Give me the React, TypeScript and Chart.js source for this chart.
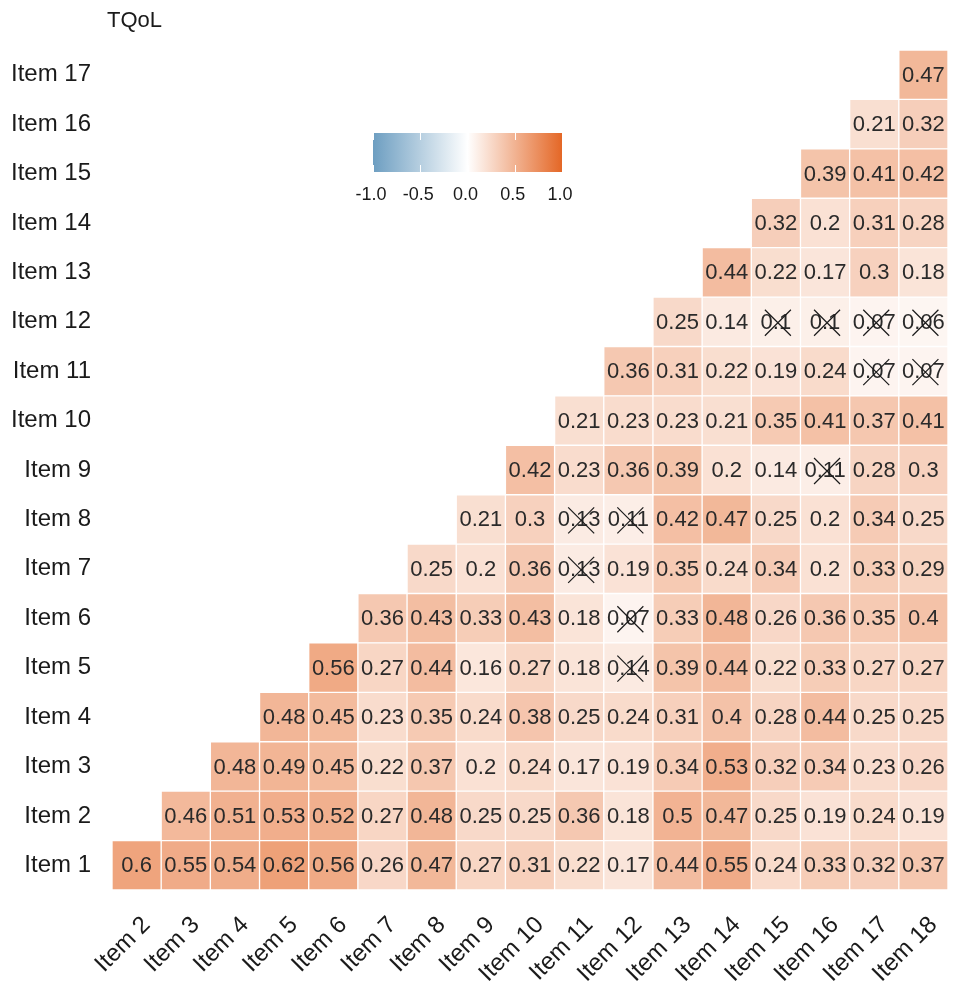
import { useEffect, useRef } from 'react';
import { Chart, registerables } from 'chart.js';

Chart.register(...registerables);

const chartTitle = 'TQoL';
const rowLabels = [
  'Item 1', 'Item 2', 'Item 3', 'Item 4', 'Item 5', 'Item 6', 'Item 7', 'Item 8', 'Item 9',
  'Item 10', 'Item 11', 'Item 12', 'Item 13', 'Item 14', 'Item 15', 'Item 16', 'Item 17',
];
const colLabels = [
  'Item 2', 'Item 3', 'Item 4', 'Item 5', 'Item 6', 'Item 7', 'Item 8', 'Item 9', 'Item 10',
  'Item 11', 'Item 12', 'Item 13', 'Item 14', 'Item 15', 'Item 16', 'Item 17', 'Item 18',
];

// correlations of each row item with the items after it (Item r+1 .. Item 18)
const item1 = [0.6, 0.55, 0.54, 0.62, 0.56, 0.26, 0.47, 0.27, 0.31, 0.22, 0.17, 0.44, 0.55, 0.24, 0.33, 0.32, 0.37];
const item2 = [0.46, 0.51, 0.53, 0.52, 0.27, 0.48, 0.25, 0.25, 0.36, 0.18, 0.5, 0.47, 0.25, 0.19, 0.24, 0.19];
const item3 = [0.48, 0.49, 0.45, 0.22, 0.37, 0.2, 0.24, 0.17, 0.19, 0.34, 0.53, 0.32, 0.34, 0.23, 0.26];
const item4 = [0.48, 0.45, 0.23, 0.35, 0.24, 0.38, 0.25, 0.24, 0.31, 0.4, 0.28, 0.44, 0.25, 0.25];
const item5 = [0.56, 0.27, 0.44, 0.16, 0.27, 0.18, 0.14, 0.39, 0.44, 0.22, 0.33, 0.27, 0.27];
const item6 = [0.36, 0.43, 0.33, 0.43, 0.18, 0.07, 0.33, 0.48, 0.26, 0.36, 0.35, 0.4];
const item7 = [0.25, 0.2, 0.36, 0.13, 0.19, 0.35, 0.24, 0.34, 0.2, 0.33, 0.29];
const item8 = [0.21, 0.3, 0.13, 0.11, 0.42, 0.47, 0.25, 0.2, 0.34, 0.25];
const item9 = [0.42, 0.23, 0.36, 0.39, 0.2, 0.14, 0.11, 0.28, 0.3];
const item10 = [0.21, 0.23, 0.23, 0.21, 0.35, 0.41, 0.37, 0.41];
const item11 = [0.36, 0.31, 0.22, 0.19, 0.24, 0.07, 0.07];
const item12 = [0.25, 0.14, 0.1, 0.1, 0.07, 0.06];
const item13 = [0.44, 0.22, 0.17, 0.3, 0.18];
const item14 = [0.32, 0.2, 0.31, 0.28];
const item15 = [0.39, 0.41, 0.42];
const item16 = [0.21, 0.32];
const item17 = [0.47];

// non-significant cells (crossed out): row item number, column item number
const insigRow = [5, 6, 7, 8, 8, 9, 11, 11, 12, 12, 12, 12];
const insigCol = [12, 12, 11, 11, 12, 16, 17, 18, 15, 16, 17, 18];

const legendTicks = [-1, -0.5, 0, 0.5, 1];
const legendTickLabels = ['-1.0', '-0.5', '0.0', '0.5', '1.0'];

const rowValues = [
  item1, item2, item3, item4, item5, item6, item7, item8, item9,
  item10, item11, item12, item13, item14, item15, item16, item17,
];

const LOW = [109, 158, 193];
const MID = [255, 255, 255];
const HIGH = [228, 103, 38];
const FONT = "'Liberation Sans', Arial, Helvetica, sans-serif";

function mix(a: number[], b: number[], t: number) {
  const c = a.map((v, i) => Math.round(v + (b[i] - v) * t));
  return `rgb(${c[0]},${c[1]},${c[2]})`;
}
function fillFor(v: number) {
  return v >= 0 ? mix(MID, HIGH, v) : mix(MID, LOW, -v);
}
function isInsig(row: number, col: number) {
  for (let i = 0; i < insigRow.length; i++) {
    if (insigRow[i] === row && insigCol[i] === col) return true;
  }
  return false;
}

const cellTextPlugin = {
  id: 'cellText',
  afterDatasetsDraw(chart: any) {
    const ctx = chart.ctx;
    ctx.save();
    ctx.font = `22px ${FONT}`;
    ctx.textAlign = 'center';
    ctx.textBaseline = 'middle';
    chart.data.datasets.forEach((ds: any, d: number) => {
      const meta = chart.getDatasetMeta(d);
      meta.data.forEach((el: any, k: number) => {
        const p = el.getProps(['x', 'y', 'base'], true);
        const cx = p.x;
        const cy = (p.y + p.base) / 2;
        ctx.fillStyle = '#2a2a2a';
        ctx.fillText(String(rowValues[d][k]), cx, cy + 1);
        const rowNum = d + 1;
        const colNum = d + 2 + k;
        if (isInsig(rowNum, colNum)) {
          ctx.strokeStyle = '#1a1a1a';
          ctx.lineWidth = 1.2;
          const h = 13;
          ctx.beginPath();
          ctx.moveTo(cx - h + 2, cy - h + 1);
          ctx.lineTo(cx + h + 2, cy + h + 1);
          ctx.moveTo(cx + h + 2, cy - h + 1);
          ctx.lineTo(cx - h + 2, cy + h + 1);
          ctx.stroke();
        }
      });
    });
    ctx.restore();
  },
};

const decorPlugin = {
  id: 'decor',
  afterDraw(chart: any) {
    const ctx = chart.ctx;
    const area = chart.chartArea;
    ctx.save();
    // title
    ctx.fillStyle = '#1a1a1a';
    ctx.font = `22px ${FONT}`;
    ctx.textAlign = 'left';
    ctx.textBaseline = 'middle';
    ctx.fillText(chartTitle, area.left - 5, 21);

    // colour bar legend
    const x0 = 373;
    const x1 = 562;
    const y0 = 133;
    const y1 = 172;
    const g = ctx.createLinearGradient(x0, 0, x1, 0);
    g.addColorStop(0, fillFor(-1));
    g.addColorStop(0.5, fillFor(0));
    g.addColorStop(1, fillFor(1));
    ctx.fillStyle = g;
    ctx.fillRect(x0, y0, x1 - x0, y1 - y0);
    ctx.strokeStyle = '#ffffff';
    ctx.lineWidth = 1;
    ctx.font = `18px ${FONT}`;
    ctx.textAlign = 'center';
    legendTicks.forEach((t, i) => {
      const px = x0 + ((t + 1) / 2) * (x1 - x0);
      const sx = Math.round(px) + 0.5;
      ctx.beginPath();
      ctx.moveTo(sx, y0);
      ctx.lineTo(sx, y0 + 7);
      ctx.moveTo(sx, y1 - 7);
      ctx.lineTo(sx, y1);
      ctx.stroke();
      ctx.fillStyle = '#1a1a1a';
      ctx.fillText(legendTickLabels[i], px - 2, 195);
    });
    ctx.restore();
  },
};

export default function App() {
  const ref = useRef<HTMLCanvasElement | null>(null);
  useEffect(() => {
    document.body.style.margin = '0';
    const canvas = ref.current;
    if (!canvas) return;
    const datasets = rowValues.map((vals, r) => ({
      label: rowLabels[r],
      data: vals.map((_, k) => ({ x: colLabels[r + k], y: [r + 0.5, r + 1.5] })),
      backgroundColor: vals.map((v) => fillFor(v)),
      borderColor: '#ffffff',
      borderWidth: 1,
      borderSkipped: false,
      grouped: false,
      barPercentage: 1,
      categoryPercentage: 1,
    }));
    const chart = new Chart(canvas, {
      type: 'bar',
      data: { labels: colLabels, datasets: datasets as any },
      options: {
        animation: false,
        responsive: false,
        devicePixelRatio: 1,
        layout: { padding: { left: 0, right: 5, top: 50, bottom: 0 } },
        plugins: {
          legend: { display: false },
          tooltip: { enabled: false },
          title: { display: false },
        },
        scales: {
          x: {
            type: 'category',
            labels: colLabels,
            offset: true,
            grid: { display: false, drawTicks: false },
            border: { display: false },
            ticks: {
              autoSkip: false,
              minRotation: 45,
              maxRotation: 45,
              labelOffset: 10,
              padding: 21,
              color: '#1a1a1a',
              font: { family: FONT, size: 24 },
            },
            afterFit: (s: any) => {
              s.height = 98;
              s.paddingLeft = 0;
              s.paddingRight = 0;
            },
          },
          y: {
            type: 'linear',
            min: 0.5,
            max: 17.5,
            grid: { display: false, drawTicks: false },
            border: { display: false },
            afterBuildTicks: (s: any) => {
              s.ticks = rowLabels.map((_, i) => ({ value: i + 1 }));
            },
            ticks: {
              padding: 21,
              color: '#1a1a1a',
              font: { family: FONT, size: 24 },
              callback: (v: any) => rowLabels[Number(v) - 1] ?? '',
            },
            afterFit: (s: any) => {
              s.width = 112;
              s.paddingTop = 0;
              s.paddingBottom = 0;
            },
          },
        },
      } as any,
      plugins: [cellTextPlugin, decorPlugin],
    });
    return () => chart.destroy();
  }, []);
  return (
    <div style={{ width: 953, height: 988, background: '#ffffff' }}>
      <canvas ref={ref} width={953} height={988} style={{ display: 'block' }} />
    </div>
  );
}
